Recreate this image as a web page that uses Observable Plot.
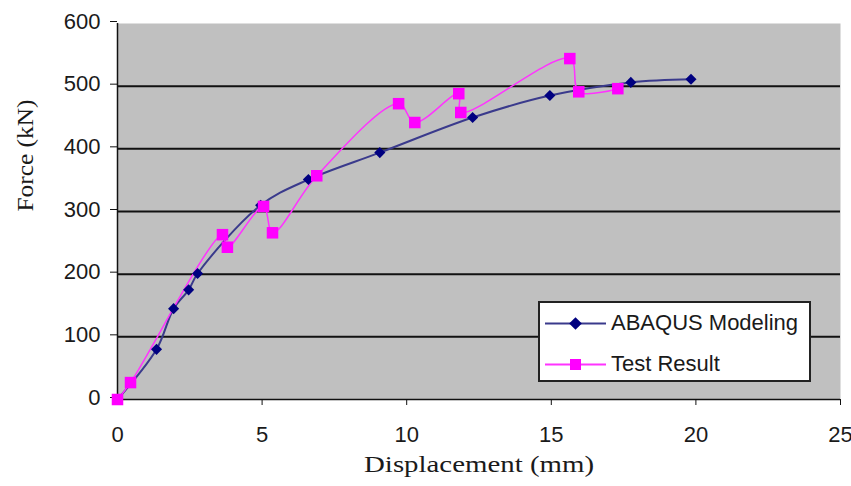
<!DOCTYPE html>
<html>
<head>
<meta charset="utf-8">
<script src="https://cdn.jsdelivr.net/npm/d3@7"></script>
<script src="https://cdn.jsdelivr.net/npm/@observablehq/plot@0.6"></script>
<style>
  html, body { margin: 0; padding: 0; background: #fff; }
  #wrap { position: relative; width: 851px; height: 486px; }
  #legend {
    position: absolute; left: 538px; top: 301px; width: 273px; height: 81px;
    background: #fff; border: 2px solid #222; box-sizing: border-box;
    font-family: "Liberation Sans", Arial, sans-serif; font-size: 22px; color: #1a1a1a;
  }
  .item { position: absolute; left: 5px; height: 30px; display: flex; align-items: center; white-space: nowrap; }
  .item svg { margin-right: 4px; }
</style>
</head>
<body>
<div id="wrap"></div>
<script>
// ABAQUS Modeling: displacement (mm), force (kN)
const abaqusDisp  = [0, 1.35, 1.94, 2.46, 2.77, 4.95, 6.6, 9.07, 12.28, 14.95, 17.75, 19.83];
const abaqusForce = [0, 80, 145, 175, 201, 310, 351, 394, 450, 485, 506, 511];
// Test Result
const testDisp  = [0, 0.45, 3.63, 3.8, 5.05, 5.36, 6.89, 9.72, 10.28, 11.8, 11.87, 15.64, 15.95, 17.3];
const testForce = [0, 27, 263, 243, 308, 266, 357, 472, 442, 488, 458, 544, 491, 496];

const xTicks = [0, 5, 10, 15, 20, 25];
const yTicks = [0, 100, 200, 300, 400, 500, 600];
const seriesNames = ["ABAQUS Modeling", "Test Result"];
const seriesColors = ["#000080", "#ff00ff"];
const lineColors = ["#3a3a8c", "#ff33ff"];
const xLabel = "Displacement (mm)";
const yLabel = "Force (kN)";

const abaqus = abaqusDisp.map((d, i) => ({x: d, y: abaqusForce[i]}));
const test = testDisp.map((d, i) => ({x: d, y: testForce[i]}));

const serif = "'Liberation Serif', 'Times New Roman', serif";

const chart = Plot.plot({
  width: 851, height: 486,
  marginLeft: 117, marginRight: 11, marginTop: 23, marginBottom: 87,
  x: {domain: [0, 25]},
  y: {domain: [0, 600]},
  style: {fontFamily: "'Liberation Sans', Arial, sans-serif", fontSize: "22px", color: "#1a1a1a", background: "#fff", overflow: "visible"},
  marks: [
    Plot.frame({fill: "#c0c0c0", stroke: null}),
    Plot.ruleY(yTicks.slice(1, -1), {stroke: "#111", strokeWidth: 2}),
    Plot.ruleX([0], {stroke: "#111", strokeWidth: 1.5}),
    Plot.ruleY([0], {stroke: "#111", strokeWidth: 1.5}),
    Plot.axisX({ticks: xTicks, tickSize: 6, tickPadding: 21, label: null, stroke: "#111"}),
    Plot.axisY({ticks: yTicks, tickSize: 7, tickPadding: 10, dy: -2, label: null, stroke: "#111"}),
    Plot.text([xLabel], {frameAnchor: "bottom", dy: 72, fontFamily: serif, fontSize: 24, fill: "#1a1a1a"}),
    Plot.text([yLabel], {frameAnchor: "left", dx: -92, rotate: -90, fontFamily: serif, fontSize: 24, fill: "#1a1a1a"}),
    Plot.line(abaqus, {x: "x", y: "y", stroke: lineColors[0], strokeWidth: 2, curve: "catmull-rom"}),
    Plot.line(test, {x: "x", y: "y", stroke: lineColors[1], strokeWidth: 1.5, curve: "catmull-rom"}),
    Plot.dot(abaqus, {x: "x", y: "y", symbol: "diamond2", r: 5, fill: seriesColors[0], stroke: null}),
    Plot.dot(test, {x: "x", y: "y", symbol: "square", r: 6.5, fill: seriesColors[1], stroke: null})
  ]
});

// widen the serif axis titles as in the reference
chart.querySelectorAll("text").forEach(t => {
  if (t.textContent === xLabel) { t.setAttribute("textLength", 230); t.setAttribute("lengthAdjust", "spacingAndGlyphs"); }
  if (t.textContent === yLabel) { t.setAttribute("textLength", 112); t.setAttribute("lengthAdjust", "spacingAndGlyphs"); }
});

const wrap = document.getElementById("wrap");
wrap.appendChild(chart);

const legend = document.createElement("div");
legend.id = "legend";
seriesNames.forEach((name, i) => {
  const item = document.createElement("div");
  item.className = "item";
  item.style.top = (i === 0 ? 5 : 46) + "px";
  const sym = i === 0
    ? `<rect x="26" y="6" width="9" height="9" transform="rotate(45 30.5 10.5)" fill="${seriesColors[0]}"/>`
    : `<rect x="25" y="5" width="11" height="11" fill="${seriesColors[1]}"/>`;
  item.innerHTML = `<svg width="62" height="21"><line x1="0" x2="61" y1="10.5" y2="10.5" stroke="${lineColors[i]}" stroke-width="2"/>${sym}</svg><span>${name}</span>`;
  legend.appendChild(item);
});
wrap.appendChild(legend);
</script>
</body>
</html>
